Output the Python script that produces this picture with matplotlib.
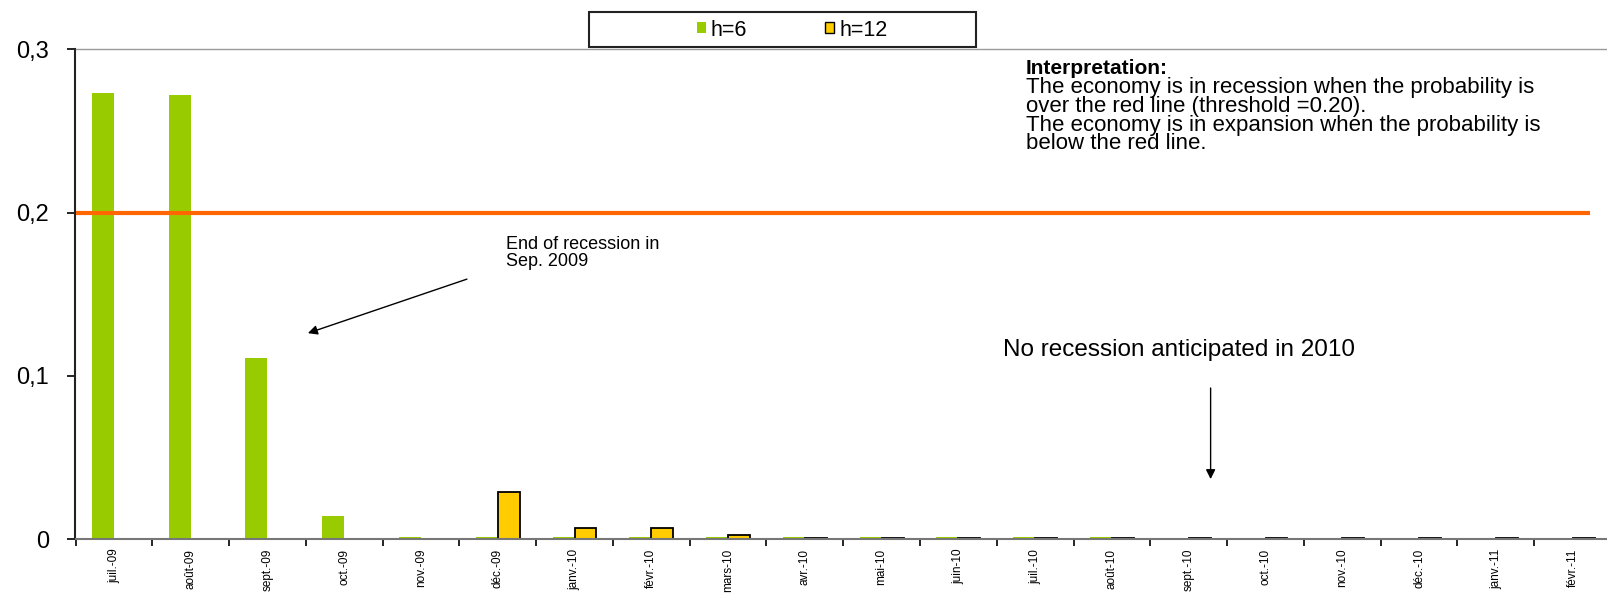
import numpy as np
import matplotlib.pyplot as plt
from matplotlib.patches import Rectangle

plt.rcParams['font.family'] = ['Liberation Sans', 'DejaVu Sans']

months = ['juil.-09', 'août-09', 'sept.-09', 'oct.-09', 'nov.-09', 'déc.-09',
          'janv.-10', 'févr.-10', 'mars-10', 'avr.-10', 'mai-10', 'juin-10',
          'juil.-10', 'août-10', 'sept.-10', 'oct.-10', 'nov.-10', 'déc.-10',
          'janv.-11', 'févr.-11']
h6 = [0.273, 0.272, 0.111, 0.014, 0.001, 0.0015, 0.001, 0.001, 0.001, 0.001,
      0.001, 0.001, 0.001, 0.001, np.nan, np.nan, np.nan, np.nan, np.nan, np.nan]
h12 = [np.nan, np.nan, np.nan, np.nan, np.nan, 0.029, 0.0065, 0.007, 0.0025, 0.0006,
       0.0005, 0.0005, 0.0005, 0.0005, 0.0005, 0.0005, 0.0005, 0.0005, 0.0005, 0.0005]
threshold = 0.2
yticks = [0, 0.1, 0.2, 0.3]
ytick_labels = ['0', '0,1', '0,2', '0,3']

W, H = 1608, 593
fig = plt.figure(figsize=(W / 100, H / 100), dpi=100)
# plot area runs slightly past the right edge, as in the original
ax = fig.add_axes([75.5 / W, 1 - 539 / H, (1611 - 75.5) / W, (539 - 49.3) / H])

x = np.arange(len(months))
bw = 0.286
ax.bar(x - bw / 2, h6, bw, color='#99CC00', edgecolor='none', zorder=2)
ax.bar(x + bw / 2, h12, bw, color='#FFCC00', edgecolor='black', linewidth=1.3, zorder=2)

ax.hlines(threshold, -0.5, 19.23, color='#FF6600', linewidth=3, zorder=3)

ax.set_xlim(-0.5, 19.5)
ax.set_ylim(0, 0.3)
ax.set_yticks(yticks)
ax.set_yticklabels(ytick_labels, fontsize=17)
ax.tick_params(axis='y', length=6, width=1.2, pad=13, direction='out')

ax.set_xticks(x)
ax.set_xticklabels(months, rotation=90, fontsize=8.5)
ax.tick_params(axis='x', which='major', length=0, pad=7)
ax.set_xticks(np.arange(len(months) + 1) - 0.5, minor=True)
ax.tick_params(axis='x', which='minor', length=5, width=1.2, direction='out')

ax.spines['left'].set_color('#222222')
ax.spines['left'].set_linewidth(1.5)
ax.spines['bottom'].set_color('#777777')
ax.spines['bottom'].set_linewidth(1.5)
ax.spines['top'].set_color('#999999')
ax.spines['top'].set_linewidth(1)
ax.spines['right'].set_visible(False)

# legend box at top
fig.patches.append(Rectangle((589 / W, 1 - 47 / H), (976 - 589) / W, 35 / H,
                             transform=fig.transFigure, facecolor='white',
                             edgecolor='#222222', linewidth=1.5, zorder=5))
g = Rectangle((0, 0), 1, 1, facecolor='#99CC00', edgecolor='none')
y_ = Rectangle((0, 0), 1, 1, facecolor='#FFCC00', edgecolor='black', linewidth=1)
leg = fig.legend([g, y_], ['h=6', 'h=12'], loc='center',
                 bbox_to_anchor=(792 / W, 1 - 30 / H), ncol=2, frameon=False,
                 fontsize=15.5, handlelength=0.42, handleheight=0.42,
                 handletextpad=0.25, columnspacing=3.6)
leg.set_zorder(6)

# annotations
ax.text(11.876, 0.2884, 'Interpretation:', fontsize=15, fontweight='bold',
        ha='left', va='center')
ax.text(11.876, 0.2828,
        'The economy is in recession when the probability is\n'
        'over the red line (threshold =0.20).\n'
        'The economy is in expansion when the probability is\n'
        'below the red line.',
        fontsize=16, ha='left', va='top', linespacing=0.85)

ax.text(5.105, 0.1855, 'End of recession in\nSep. 2009', fontsize=13,
        ha='left', va='top', linespacing=0.95)
ax.annotate('', xy=(2.527, 0.1261), xytext=(4.598, 0.1592),
            arrowprops=dict(arrowstyle='-|>', color='black', lw=1,
                            mutation_scale=14, shrinkA=0, shrinkB=0))

ax.text(11.577, 0.1157, 'No recession anticipated in 2010', fontsize=17.5,
        ha='left', va='center')
ax.annotate('', xy=(14.285, 0.0367), xytext=(14.285, 0.0925),
            arrowprops=dict(arrowstyle='-|>', color='black', lw=1,
                            mutation_scale=14, shrinkA=0, shrinkB=0))

fig.savefig('out.png', dpi=100)
